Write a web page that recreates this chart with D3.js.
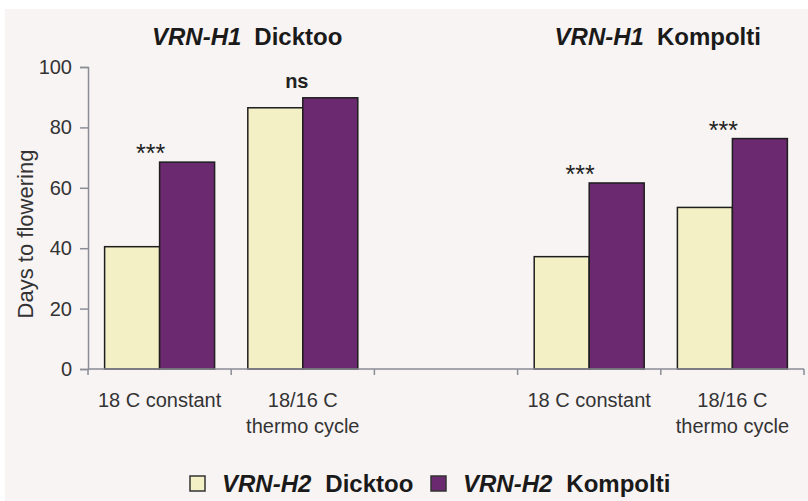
<!DOCTYPE html>
<html>
<head>
<meta charset="utf-8">
<script src="https://cdn.jsdelivr.net/npm/d3@7"></script>
<style>
  body { margin: 0; background: #fff; }
  svg { display: block; font-family: "Liberation Sans", Arial, sans-serif; }
</style>
</head>
<body>
<div id="chart"></div>
<script>
// band slots along the x axis (slot 3 is the empty gap between cultivars)
const slots = ['d-const', 'd-cycle', 'gap', 'k-const', 'k-cycle'];
const slotLabels = [['18 C constant'], ['18/16 C', 'thermo cycle'], [], ['18 C constant'], ['18/16 C', 'thermo cycle']];
const seriesNames = ['VRN-H2 Dicktoo', 'VRN-H2 Kompolti'];
const dicktooValues = [40.5, 86.5, null, 37.2, 53.5];
const kompoltiValues = [68.5, 89.8, null, 61.6, 76.3];
const signif = ['***', 'ns', '', '***', '***'];
const yTicks = [0, 20, 40, 60, 80, 100];
const colors = ['#f3f0c5', '#6b2970'];

const width = 808;
const height = 501;

const svg = d3.select('#chart').append('svg')
  .attr('width', width)
  .attr('height', height);

svg.append('rect')
  .attr('x', 5).attr('y', 9)
  .attr('width', width - 5).attr('height', height - 9)
  .attr('fill', '#f8f4f3');

const x = d3.scaleBand().domain(slots).range([88, 804]).padding(0);
const xs = d3.scaleBand().domain([0, 1]).range([0, x.bandwidth()]).paddingInner(0).paddingOuter(0.302);
const y = d3.scaleLinear().domain([0, 100]).range([369, 67]);

// y axis
const yAxis = svg.append('g')
  .attr('transform', `translate(${x.range()[0]},0)`)
  .call(d3.axisLeft(y).tickValues(yTicks).tickSize(8).tickPadding(8));
yAxis.select('.domain').attr('stroke', '#8a8d96').attr('stroke-width', 1.5);
yAxis.selectAll('.tick line').attr('stroke', '#8a8d96').attr('stroke-width', 1.5);
yAxis.selectAll('.tick text')
  .attr('font-size', 20).attr('fill', '#333')
  .attr('font-family', '"Liberation Sans", Arial, sans-serif');

// bars
const rows = slots.map((s, i) => ({ slot: s, vals: [dicktooValues[i], kompoltiValues[i]], s: signif[i] }))
  .filter(d => d.vals[0] !== null);

const groups = svg.append('g').selectAll('g')
  .data(rows)
  .enter()
  .append('g')
  .attr('transform', d => `translate(${x(d.slot)},0)`);

groups.selectAll('rect')
  .data(d => d.vals)
  .enter()
  .append('rect')
  .attr('x', (d, i) => xs(i))
  .attr('y', d => y(d))
  .attr('width', xs.bandwidth())
  .attr('height', d => y(0) - y(d))
  .attr('fill', (d, i) => colors[i])
  .attr('stroke', '#1e1e1e')
  .attr('stroke-width', 1.5);

// x axis with ticks on band boundaries
const xAxisG = svg.append('g').attr('transform', `translate(0,${y(0)})`);
xAxisG.append('line')
  .attr('x1', x.range()[0]).attr('x2', x.range()[1])
  .attr('stroke', '#8a8d96').attr('stroke-width', 1.5);
const bounds = slots.map(s => x(s)).concat([x.range()[1]]);
xAxisG.selectAll('.xt')
  .data(bounds)
  .enter()
  .append('line')
  .attr('x1', d => d).attr('x2', d => d)
  .attr('y1', 0).attr('y2', 6)
  .attr('stroke', '#8a8d96').attr('stroke-width', 1.5);

const labels = svg.append('g').selectAll('text')
  .data(slots.map((s, i) => ({ slot: s, lines: slotLabels[i] })))
  .enter()
  .append('text')
  .attr('text-anchor', 'middle')
  .attr('font-size', 20)
  .attr('fill', '#333');
labels.selectAll('tspan')
  .data(d => d.lines.map(l => ({ slot: d.slot, l })))
  .enter()
  .append('tspan')
  .attr('x', d => x(d.slot) + x.bandwidth() / 2)
  .attr('y', (d, i) => 407 + i * 26)
  .text(d => d.l);

// significance marks above each pair
svg.append('g').selectAll('text')
  .data(rows)
  .enter()
  .append('text')
  .attr('text-anchor', 'middle')
  .attr('x', d => x(d.slot) + x.bandwidth() / 2 + (d.s === 'ns' ? -6 : -9))
  .attr('y', d => y(d3.max(d.vals)) + (d.s === 'ns' ? -10 : 0))
  .attr('font-size', d => (d.s === 'ns' ? 20 : 25))
  .attr('font-weight', d => (d.s === 'ns' ? 'bold' : 'normal'))
  .attr('fill', '#222')
  .text(d => d.s);

// panel titles
const titles = [['d-const', 'Dicktoo', 64], ['k-const', 'Kompolti', 37]];
titles.forEach(t => {
  const tx = svg.append('text')
    .attr('x', x(t[0]) + t[2])
    .attr('y', 45)
    .attr('font-size', 24)
    .attr('font-weight', 'bold')
    .attr('fill', '#1a1a1a');
  tx.append('tspan').attr('font-style', 'italic').text('VRN-H1');
  tx.append('tspan').attr('dx', 13).text(t[1]);
});

// y axis title
svg.append('text')
  .attr('transform', 'translate(33,234) rotate(-90)')
  .attr('text-anchor', 'middle')
  .attr('font-size', 22)
  .attr('fill', '#333')
  .text('Days to flowering');

// legend
const legendItems = [
  { c: colors[0], name: seriesNames[0], x: 190 },
  { c: colors[1], name: seriesNames[1], x: 431 }
];
legendItems.forEach(it => {
  svg.append('rect')
    .attr('x', it.x).attr('y', 476)
    .attr('width', 15).attr('height', 15)
    .attr('fill', it.c)
    .attr('stroke', '#333').attr('stroke-width', 1.5);
  const parts = it.name.split(' ');
  const t = svg.append('text')
    .attr('x', it.x + 32).attr('y', 492)
    .attr('font-size', 24).attr('font-weight', 'bold')
    .attr('fill', '#1a1a1a');
  t.append('tspan').attr('font-style', 'italic').text(parts[0]);
  t.append('tspan').attr('dx', 14).text(parts[1]);
});
</script>
</body>
</html>
